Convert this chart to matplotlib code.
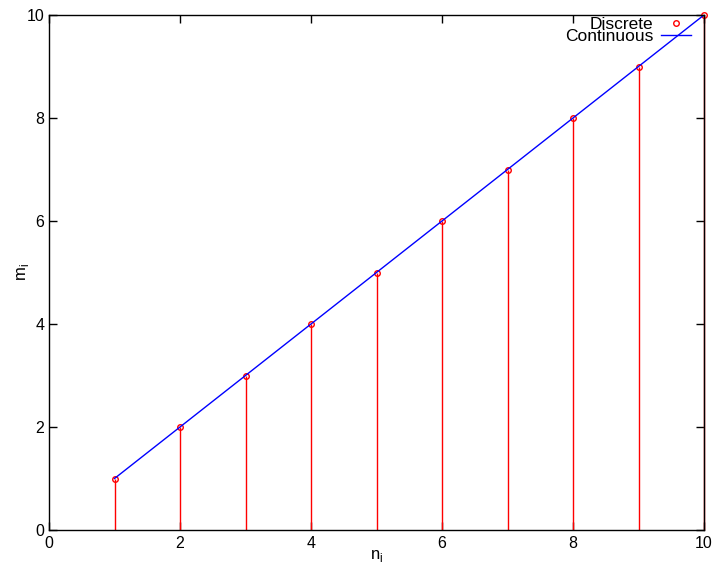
import numpy as np
import matplotlib
matplotlib.use('Agg')
from matplotlib import pyplot as plt

n_values = [1, 2, 3, 4, 5, 6, 7, 8, 9, 10]
m_values = [1, 2, 3, 4, 5, 6, 7, 8, 9, 10]
line_x = [1, 10]
line_y = [1, 10]
ticks = [0, 2, 4, 6, 8, 10]

plt.rcParams['font.family'] = ['Liberation Sans', 'DejaVu Sans']
plt.rcParams['font.size'] = 11.5

fig = plt.figure(figsize=(7.12, 5.66), dpi=100)
ax = fig.add_axes([49 / 712, 36 / 566, 655 / 712, 515 / 566])

# impulses for the discrete points
ax.vlines(n_values, 0, m_values, colors='#ff0000', linewidth=1, clip_on=False)
ax.plot(n_values, m_values, linestyle='none', marker='o', markersize=4, clip_on=False,
	markerfacecolor='none', markeredgecolor='#ff0000', markeredgewidth=1, label='Discrete')
ax.plot(line_x, line_y, color='#0000ff', linewidth=1, label='Continuous')

ax.set_xlim(0, 10)
ax.set_ylim(0, 10)
ax.set_xticks(ticks)
ax.set_yticks(ticks)
ax.tick_params(direction='in', top=True, right=True, length=6, width=1, labelsize=11.5)
ax.tick_params(axis='x', pad=4)
for s in ax.spines.values():
	s.set_linewidth(1)

ax.set_xlabel(r'n$_\mathregular{i}$', labelpad=-2, fontsize=12)
ax.set_ylabel(r'm$_\mathregular{i}$', labelpad=-3, fontsize=12)

ax.legend(loc='upper right', frameon=False, markerfirst=False, labelspacing=-0.18,
	handlelength=1.75, handletextpad=0.4, borderpad=0, borderaxespad=0,
	bbox_to_anchor=(1 - 13 / 655, 0.996), fontsize=12.5)

fig.savefig('out.png', dpi=100)
